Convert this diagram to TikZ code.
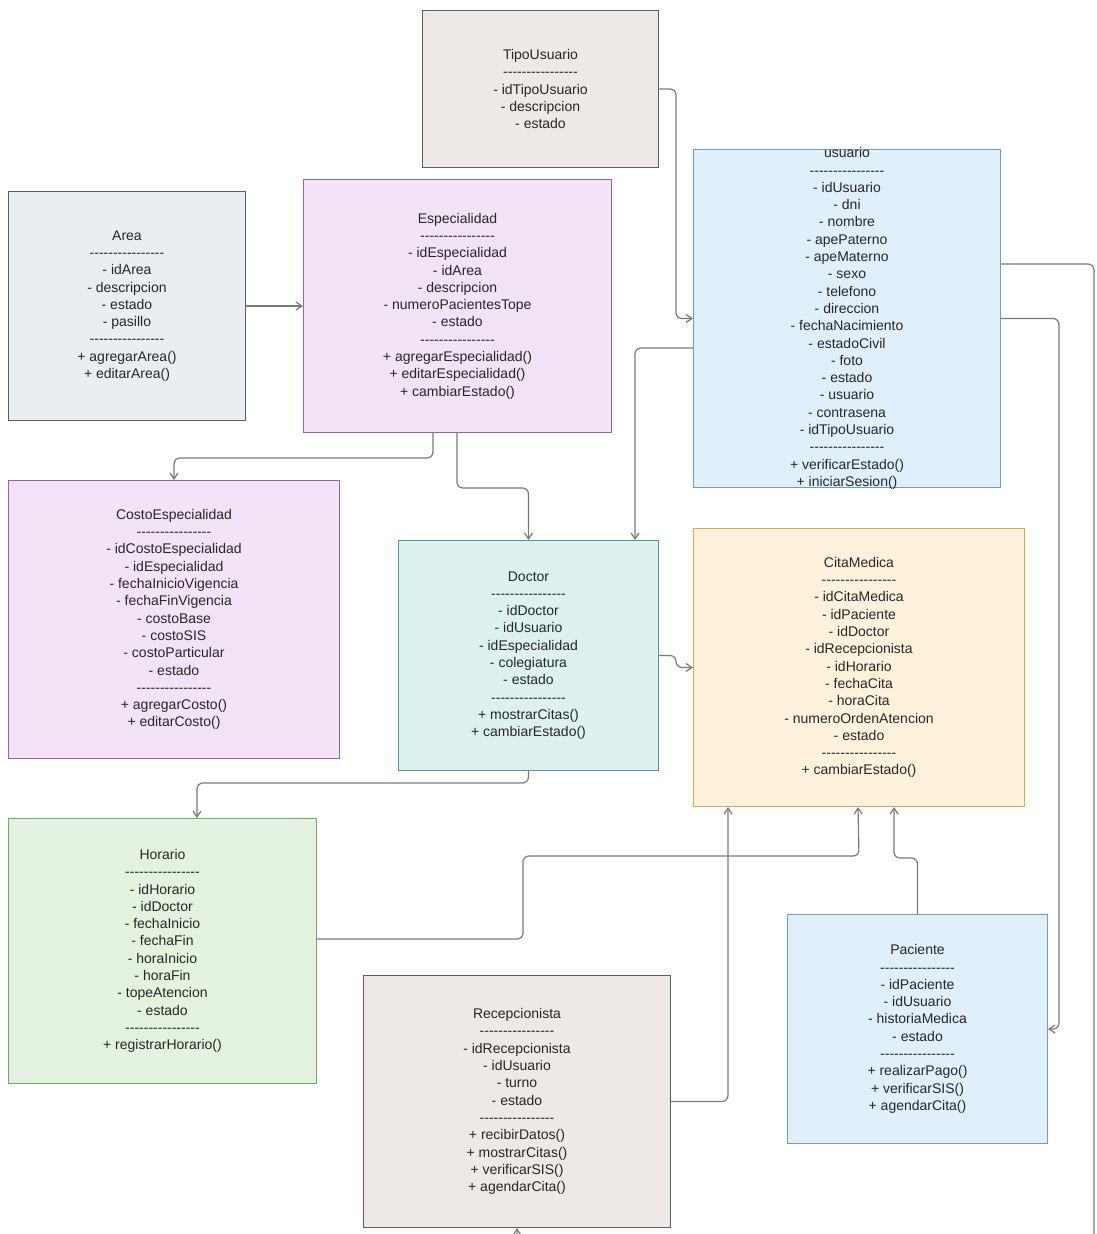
\documentclass[tikz,border=0pt]{standalone}
\usepackage{fontspec}
\setmainfont{Liberation Sans}
\usepackage{tikz}
\usetikzlibrary{arrows.meta, positioning, calc}

\definecolor{txtgray}{HTML}{262626}
\definecolor{linegray}{HTML}{7A7A7A}
\definecolor{stonefill}{HTML}{EEE9E6}
\definecolor{stonedraw}{HTML}{5E5E5E}
\definecolor{slatefill}{HTML}{E9EEF0}
\definecolor{lilacfill}{HTML}{F2E3F6}
\definecolor{lilacdraw}{HTML}{8E6B9C}
\definecolor{skyfill}{HTML}{E1EFFB}
\definecolor{skydraw}{HTML}{6E9DC0}
\definecolor{tealfill}{HTML}{DEF1EF}
\definecolor{tealdraw}{HTML}{4F9896}
\definecolor{sandfill}{HTML}{FFF2DD}
\definecolor{sanddraw}{HTML}{D8AC4E}
\definecolor{mintfill}{HTML}{E3F3E0}
\definecolor{mintdraw}{HTML}{6DAA68}

\newcommand{\hy}{\mbox{-}}
\newcommand{\sepln}{\hy\hy\hy\hy\hy\hy\hy\hy\hy\hy\hy\hy\hy\hy\hy\hy}

\tikzset{
    umlbox/.style={draw, rectangle, line width=1pt, anchor=north west, align=center, text centered, inner xsep=2pt, inner ysep=0pt, text=txtgray, font=\fontsize{14}{17.3}\selectfont},
    stonebox/.style={umlbox, fill=stonefill, draw=stonedraw},
    slatebox/.style={umlbox, fill=slatefill, draw=stonedraw},
    lilacbox/.style={umlbox, fill=lilacfill, draw=lilacdraw},
    skybox/.style={umlbox, fill=skyfill, draw=skydraw},
    tealbox/.style={umlbox, fill=tealfill, draw=tealdraw},
    sandbox/.style={umlbox, fill=sandfill, draw=sanddraw},
    mintbox/.style={umlbox, fill=mintfill, draw=mintdraw},
    conn/.style={-{Straight Barb[length=6pt,width=8pt]}, line width=1.2pt, draw=linegray, rounded corners=6pt}
}

\begin{document}
\begin{tikzpicture}[x=1pt, y=-1pt]
        \useasboundingbox (0,0) rectangle (1096,1234);
        \clip (0,0) rectangle (1096,1234);

        % Classes
        \node[stonebox, minimum width=236pt, minimum height=157pt] (tipo) at (422,10)
            {TipoUsuario\\\sepln\\- idTipoUsuario\\- descripcion\\- estado};
        \node[skybox, minimum width=307pt, minimum height=338pt, inner ysep=-2pt] (usuario) at (693,149)
            {usuario\\\sepln\\- idUsuario\\- dni\\- nombre\\- apePaterno\\- apeMaterno\\- sexo\\- telefono\\- direccion\\- fechaNacimiento\\- estadoCivil\\- foto\\- estado\\- usuario\\- contrasena\\- idTipoUsuario\\\sepln\\+ verificarEstado()\\+ iniciarSesion()};
        \node[slatebox, minimum width=237pt, minimum height=229pt] (area) at (8,191)
            {Area\\\sepln\\- idArea\\- descripcion\\- estado\\- pasillo\\\sepln\\+ agregarArea()\\+ editarArea()};
        \node[lilacbox, minimum width=308pt, minimum height=253pt] (esp) at (303,179)
            {Especialidad\\\sepln\\- idEspecialidad\\- idArea\\- descripcion\\- numeroPacientesTope\\- estado\\\sepln\\+ agregarEspecialidad()\\+ editarEspecialidad()\\+ cambiarEstado()};
        \node[lilacbox, minimum width=331pt, minimum height=278pt] (costo) at (8,480)
            {CostoEspecialidad\\\sepln\\- idCostoEspecialidad\\- idEspecialidad\\- fechaInicioVigencia\\- fechaFinVigencia\\- costoBase\\- costoSIS\\- costoParticular\\- estado\\\sepln\\+ agregarCosto()\\+ editarCosto()};
        \node[tealbox, minimum width=260pt, minimum height=230pt] (doctor) at (398,540)
            {Doctor\\\sepln\\- idDoctor\\- idUsuario\\- idEspecialidad\\- colegiatura\\- estado\\\sepln\\+ mostrarCitas()\\+ cambiarEstado()};
        \node[sandbox, minimum width=331pt, minimum height=278pt] (cita) at (693,528)
            {CitaMedica\\\sepln\\- idCitaMedica\\- idPaciente\\- idDoctor\\- idRecepcionista\\- idHorario\\- fechaCita\\- horaCita\\- numeroOrdenAtencion\\- estado\\\sepln\\+ cambiarEstado()};
        \node[mintbox, minimum width=308pt, minimum height=265pt] (horario) at (8,818)
            {Horario\\\sepln\\- idHorario\\- idDoctor\\- fechaInicio\\- fechaFin\\- horaInicio\\- horaFin\\- topeAtencion\\- estado\\\sepln\\+ registrarHorario()};
        \node[stonebox, minimum width=307pt, minimum height=252pt] (recep) at (363,975)
            {Recepcionista\\\sepln\\- idRecepcionista\\- idUsuario\\- turno\\- estado\\\sepln\\+ recibirDatos()\\+ mostrarCitas()\\+ verificarSIS()\\+ agendarCita()};
        \node[skybox, minimum width=260pt, minimum height=229pt] (paciente) at (787,914)
            {Paciente\\\sepln\\- idPaciente\\- idUsuario\\- historiaMedica\\- estado\\\sepln\\+ realizarPago()\\+ verificarSIS()\\+ agendarCita()};

        % Associations
        \draw[conn] (tipo.east) -- ++(17,0) |- (usuario.west);
        \draw[conn] (area.east) -- (esp.west);
        \draw[conn] ($(esp.south west)+(130,0)$) -- ++(0,25) -| (costo.north);
        \draw[conn] ($(esp.south west)+(154,0)$) -- ++(0,55) -| (doctor.north);
        \draw[conn] ($(usuario.north west)+(0,199)$) -| ($(doctor.north east)+(-24,0)$);
        \draw[conn] (doctor.east) -- ++(17,0) |- (cita.west);
        \draw[conn] (doctor.south) -- ++(0,12) -| ($(horario.north west)+(189,0)$);
        \draw[conn] ($(horario.east)+(0,-12)$) -- ++(206,0) |- ++(336,-83) -- ($(cita.south west)+(165,0)$);
        \draw[conn] (recep.east) -| ($(cita.south west)+(35,0)$);
        \draw[conn] (paciente.north) -- ++(0,-56) -| ($(cita.south west)+(201,0)$);
        \draw[conn] (usuario.east) -- ++(58,0) |- (paciente.east);
        \draw[conn] ($(usuario.north east)+(0,115)$) -- ++(93,0) -- ++(0,990) -| (recep.south);
\end{tikzpicture}
\end{document}
